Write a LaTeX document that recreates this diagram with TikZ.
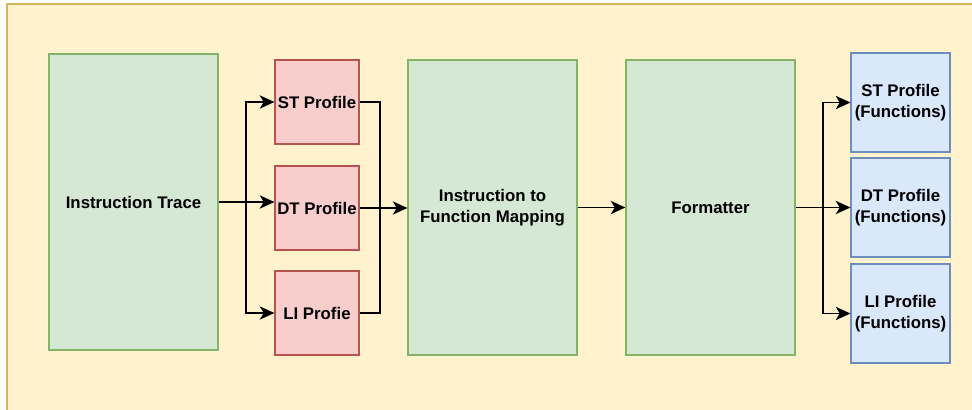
\documentclass[tikz,border=0pt]{standalone}
\usepackage{fontspec}
\setmainfont{Liberation Sans}
\usepackage{xcolor}
\usetikzlibrary{arrows.meta}

\definecolor{bgfill}{HTML}{FFF2CC}
\definecolor{bgline}{HTML}{D6B656}
\definecolor{grfill}{HTML}{D5E8D4}
\definecolor{grline}{HTML}{82B366}
\definecolor{rdfill}{HTML}{F8CECC}
\definecolor{rdline}{HTML}{B85450}
\definecolor{blfill}{HTML}{DAE8FC}
\definecolor{blline}{HTML}{6C8EBF}

\tikzset{
  stage/.style={draw=grline, fill=grfill, line width=0.9pt, align=center,
    minimum width=126.75pt, minimum height=221.25pt, inner sep=0pt},
  prof/.style={draw=rdline, fill=rdfill, line width=0.9pt, align=center,
    minimum width=63pt, minimum height=63pt, inner sep=0pt},
  outprof/.style={draw=blline, fill=blfill, line width=0.9pt, align=center,
    minimum width=74.25pt, minimum height=74.25pt, inner sep=0pt},
  flow/.style={draw=black, line width=1.1pt, -{Stealth[length=11pt, width=10pt, inset=3pt]}},
  wire/.style={draw=black, line width=1.1pt},
}

\begin{document}
\begin{tikzpicture}[x=0.75pt, y=-0.75pt, font=\bfseries\fontsize{12.6}{16.2}\selectfont]
  \useasboundingbox (0,0) rectangle (972,410);
  \fill[bgfill, draw=bgline, line width=0.9pt] (7,4) rectangle (980,420);

  % stages
  \node[stage, minimum height=222pt] (trace) at (133.5,202) {Instruction Trace};
  \node[prof] (st) at (317,102) {ST Profile};
  \node[prof] (dt) at (317,208) {DT Profile};
  \node[prof] (li) at (317,313) {LI Profie};
  \node[stage] (map) at (492.5,207.5) {Instruction to\\Function Mapping};
  \node[stage] (fmt) at (710.5,207.5) {Formatter};
  \node[outprof] (stf) at (900.5,102.5) {ST Profile\\(Functions)};
  \node[outprof] (dtf) at (900.5,207.5) {DT Profile\\(Functions)};
  \node[outprof] (lif) at (900.5,313.5) {LI Profile\\(Functions)};

  % split / merge points
  \coordinate (split) at (246,202);
  \coordinate (merge) at (380,208);
  \coordinate (fan) at (823,207.5);

  \draw[wire] (trace.east) -- (split);
  \draw[flow] (split) |- (st.west);
  \draw[flow] (split) -- (dt.west |- split);
  \draw[flow] (split) |- (li.west);

  \draw[wire] (st.east) -| (merge);
  \draw[wire] (li.east) -| (merge);
  \draw[flow] (dt.east) -- (map.west |- dt.east);

  \draw[flow] (map.east) -- (fmt.west);

  \draw[wire] (fmt.east) -- (fan);
  \draw[flow] (fan) |- (stf.west);
  \draw[flow] (fan) -- (dtf.west);
  \draw[flow] (fan) |- (lif.west);
\end{tikzpicture}
\end{document}
